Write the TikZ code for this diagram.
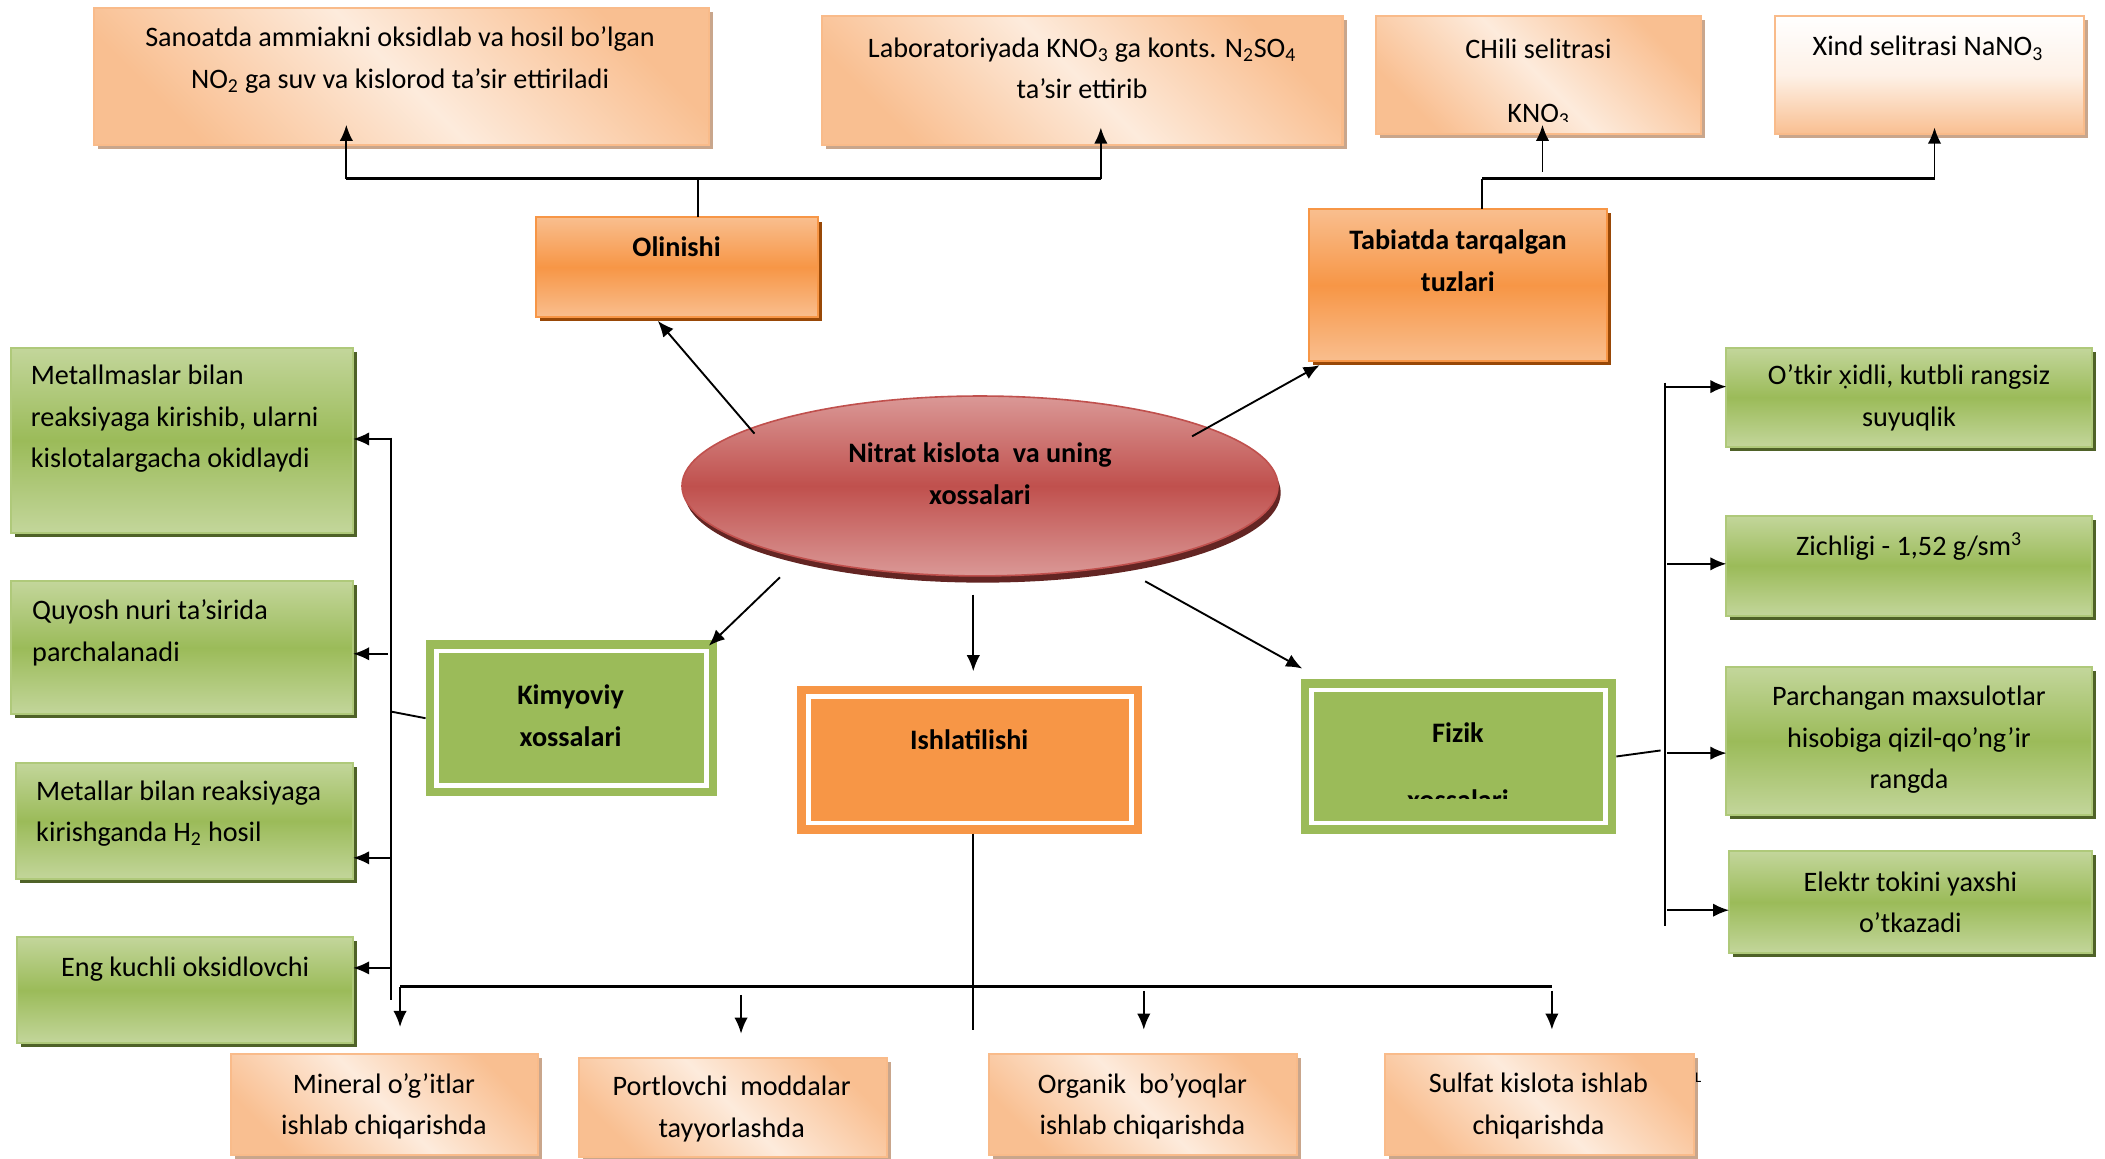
\documentclass[tikz,border=0pt]{standalone}
\usepackage{fontspec}
\setmainfont{Carlito}
\newfontfamily\notox[Scale=0.9]{Noto Sans}
\usetikzlibrary{shapes.geometric,shadows,arrows.meta}
\definecolor{peachD}{HTML}{F9BF91}
\definecolor{peachL}{HTML}{FDEBDC}
\definecolor{peachB}{HTML}{F9BB8A}
\definecolor{peachS}{HTML}{C9A68C}
\definecolor{orM}{HTML}{F79646}
\definecolor{orL}{HTML}{F9BE8E}
\definecolor{orS}{HTML}{984807}
\definecolor{grM}{HTML}{9BBB59}
\definecolor{grL}{HTML}{C3D69B}
\definecolor{grS}{HTML}{4F6228}
\definecolor{rdM}{HTML}{C0504D}
\definecolor{rdL}{HTML}{DA9896}
\definecolor{rdS}{HTML}{632523}
\tikzset{
  base/.style={inner sep=0pt, outer sep=0pt},
  peach/.style={base, draw=peachB, line width=1.5pt, top color=peachD, bottom color=peachD, middle color=peachL, shading angle=-45,
    drop shadow={shadow xshift=3pt, shadow yshift=-3pt, fill=peachS, opacity=1}},
  peachv/.style={base, draw=peachB, line width=1.5pt, top color=white, bottom color=peachD, middle color=peachL!70!white,
    drop shadow={shadow xshift=3pt, shadow yshift=-3pt, fill=peachS, opacity=1}},
  headbox/.style={base, draw=orM, line width=1.5pt, top color=orL, bottom color=orL, middle color=orM,
    drop shadow={shadow xshift=3pt, shadow yshift=-3pt, fill=orS, opacity=1}},
  greenbox/.style={base, draw=grM!80!white, line width=1.5pt, top color=grL, bottom color=grL, middle color=grM,
    drop shadow={shadow xshift=3pt, shadow yshift=-3pt, fill=grS, opacity=1}},
  ell/.style={base, ellipse, draw=rdM, line width=1.2pt, top color=rdL, bottom color=rdL, middle color=rdM,
    drop shadow={shadow xshift=2pt, shadow yshift=-5pt, fill=rdS, opacity=1}},
  solidg/.style={base, fill=grM},
  solido/.style={base, fill=orM},
  innerw/.style={draw=white, line width=3.5pt},
  txt/.style={base, align=center, font=\fontsize{21}{31}\selectfont},
  txtl/.style={base, align=left, anchor=west, font=\fontsize{21}{31}\selectfont},
  btxt/.style={base, align=center, font=\fontsize{21}{31}\selectfont\bfseries},
  ln/.style={line width=1.4pt, black},
  arr/.style={line width=1.4pt, black, -{Latex[length=12pt,width=10pt]}},
}
\begin{document}
\begin{tikzpicture}[x=1pt,y=-1pt]
\useasboundingbox[fill=white] (0,0) rectangle (1568,863.3);

% ---------- top boxes ----------
\node[peach, minimum width=458pt, minimum height=102pt] (b1) at (299,57) {};
\node[txt] (b1t) at (298,44.5) {Sanoatda ammiakni oksidlab va hosil bo’lgan\\NO\textsubscript{2} ga suv va kislorod ta’sir ettiriladi};
\node[peach, minimum width=388pt, minimum height=96pt] (b2) at (806,60) {};
\node[txt] (b2t) at (806,51) {Laboratoriyada KNO\textsubscript{3} ga konts. N\textsubscript{2}SO\textsubscript{4}\\ta’sir ettirib};
\node[peach, minimum width=242pt, minimum height=88pt] (b3) at (1146,56) {};
\node[txt] (b3t) at (1146,36) {CHili selitrasi};
\begin{scope}
  \clip (1025,12) rectangle (1267,90.5);
  \node[txt] (b3k) at (1146,86) {KNO\textsubscript{3}};
\end{scope}
\node[peachv, minimum width=230pt, minimum height=88pt] (b4) at (1437,56) {};
\node[txt] (b4t) at (1436,36) {Xind selitrasi NaNO\textsubscript{3}};

% ---------- heading boxes ----------
\node[headbox, minimum width=210pt, minimum height=74pt] (o) at (504,199) {};
\node[btxt] (ot) at (504,184) {Olinishi};
\node[headbox, minimum width=222pt, minimum height=113pt] (t) at (1086,212.5) {};
\node[btxt] (tt) at (1086,194) {Tabiatda tarqalgan\\tuzlari};

% ---------- central ellipse ----------
\node[ell, minimum width=444pt, minimum height=134pt] (e) at (730,362) {};
\node[btxt] (et) at (730,353) {Nitrat kislota \ va uning\\xossalari};

% ---------- Kimyoviy ----------
\node[solidg, minimum width=217pt, minimum height=116pt] (k) at (425.5,535) {};
\draw[innerw] ([shift={(8,8)}]k.north west) rectangle ([shift={(-8,-8)}]k.south east);
\node[btxt] (kt) at (425,533) {Kimyoviy\\xossalari};

% ---------- Ishlatilishi ----------
\node[solido, minimum width=257pt, minimum height=110pt] (i) at (722.5,566) {};
\draw[innerw] ([shift={(8,8)}]i.north west) rectangle ([shift={(-8,-8)}]i.south east);
\node[btxt] (it) at (722,551) {Ishlatilishi};

% ---------- Fizik ----------
\node[solidg, minimum width=235pt, minimum height=115pt] (f) at (1086.5,563.5) {};
\draw[innerw] ([shift={(8,8)}]f.north west) rectangle ([shift={(-8,-8)}]f.south east);
\node[btxt] (ft) at (1086,546) {Fizik};
\begin{scope}
  \clip (969,506) rectangle (1204,595);
  \node[btxt] (fx) at (1086,596) {xossalari};
\end{scope}

% ---------- left green boxes ----------
\node[greenbox, minimum width=255pt, minimum height=138pt] (l1) at (135.5,328) {};
\node[txtl] (l1t) at (23,312) {Metallmaslar bilan\\reaksiyaga kirishib, ularni\\kislotalargacha okidlaydi};
\node[greenbox, minimum width=255pt, minimum height=99pt] (l2) at (135.5,482.5) {};
\node[txtl] (l2t) at (24,471.5) {Quyosh nuri ta’sirida\\parchalanadi};
\node[greenbox, minimum width=251pt, minimum height=87pt] (l3) at (137.5,611.5) {};
\node[txtl] (l3t) at (27,606) {Metallar bilan reaksiyaga\\kirishganda H\textsubscript{2} hosil};
\node[greenbox, minimum width=250pt, minimum height=79pt] (l4) at (138,737.5) {};
\node[txt] (l4t) at (138,722) {Eng kuchli oksidlovchi};

% ---------- right green boxes ----------
\node[greenbox, minimum width=272pt, minimum height=74pt] (r1) at (1422,296) {};
\node[txt] (r1t) at (1422,296.5) {O’tkir {\notox x̣}idli, kutbli rangsiz\\suyuqlik};
\node[greenbox, minimum width=272pt, minimum height=75pt] (r2) at (1422,421.5) {};
\node[txt] (r2t) at (1422,407) {Zichligi - 1,52 g/sm\textsuperscript{3}};
\node[greenbox, minimum width=272pt, minimum height=110pt] (r3) at (1422,552) {};
\node[txt] (r3t) at (1422,551) {Parchangan maxsulotlar\\hisobiga qizil-qo’ng’ir\\rangda};
\node[greenbox, minimum width=270pt, minimum height=76pt] (r4) at (1423,672) {};
\node[txt] (r4t) at (1423,672) {Elektr tokini yaxshi\\o’tkazadi};

% ---------- bottom boxes ----------
\node[peach, minimum width=229pt, minimum height=75pt] (u1) at (286.5,822.5) {};
\node[txt] (u1t) at (286,824) {Mineral o’g’itlar\\ishlab chiqarishda};
\node[peach, minimum width=230pt, minimum height=74pt] (u2) at (546,825) {};
\node[txt] (u2t) at (545,826) {Portlovchi \ moddalar\\tayyorlashda};
\node[peach, minimum width=229pt, minimum height=75pt] (u3) at (851.5,822.5) {};
\node[txt] (u3t) at (851,824) {Organik \ bo’yoqlar\\ishlab chiqarishda};
\node[peach, minimum width=230pt, minimum height=75pt] (u4) at (1147,822.5) {};
\node[txt] (u4t) at (1146,824) {Sulfat kislota ishlab\\chiqarishda};
\node[base, font=\fontsize{11}{11}\selectfont] (lmark) at (1265,803) {L};

% ---------- connector coordinates ----------
\coordinate (tl) at (258,133);
\coordinate (tm) at (520,133);
\coordinate (tr) at (820,133);
\coordinate (tla) at (258,93);
\coordinate (tra) at (820,95);
\coordinate (sl) at (1104,133);
\coordinate (sr) at (1441,133);
\coordinate (sm0) at (1149,128);
\coordinate (sma) at (1149,93);
\coordinate (sra) at (1441,95);

\coordinate (eo) at (562,323);  \coordinate (eoa) at (490,239);
\coordinate (et2) at (888,325); \coordinate (eta) at (983,272);
\coordinate (ek) at (581,430);  \coordinate (eka) at (528,481);
\coordinate (ei) at (725,443);  \coordinate (eia) at (725,500);
\coordinate (ef) at (853,433);  \coordinate (efa) at (970,498);

\coordinate (lv0) at (291,326); \coordinate (lv1) at (291,745);
\coordinate (kj) at (291,530);
\coordinate (la1) at (291,327); \coordinate (la2) at (289,487);
\coordinate (la3) at (291,639); \coordinate (la4) at (291,721);

\coordinate (rv0) at (1240,285); \coordinate (rv1) at (1240,690);
\coordinate (fj) at (1237,559);
\coordinate (ra1) at (1240,288); \coordinate (ra2) at (1242,420);
\coordinate (ra3) at (1242,561); \coordinate (ra4) at (1242,678);

\coordinate (bv) at (725,767);
\coordinate (bl) at (298,735); \coordinate (br) at (1156,735);
\coordinate (bla) at (298,765);
\coordinate (b2s) at (552,741); \coordinate (b2a) at (552,770);
\coordinate (b3s) at (852,738); \coordinate (b3a) at (852,767);
\coordinate (b4s) at (1156,738); \coordinate (b4a) at (1156,767);

% ---------- connectors ----------
\draw[ln, line width=2pt] (tl) -- (tr);
\draw[ln] (tm) -- (tm |- o.north);
\draw[arr] (tl) -- (tla);
\draw[arr] (tr) -- (tra);
\draw[ln, line width=2pt] (sl) -- (sr);
\draw[ln] (sl) -- (sl |- t.north);
\draw[arr] (sm0) -- (sma);
\draw[arr] (sr) -- (sra);

\draw[arr] (eo) -- (eoa);
\draw[arr] (et2) -- (eta);
\draw[arr] (ek) -- (eka);
\draw[arr] (ei) -- (eia);
\draw[arr] (ef) -- (efa);

\draw[ln] (lv0) -- (lv1);
\draw[ln] (k.west) -- (kj);
\draw[arr] (la1) -- (la1 -| l1.east);
\draw[arr] (la2) -- (la2 -| l2.east);
\draw[arr] (la3) -- (la3 -| l3.east);
\draw[arr] (la4) -- (la4 -| l4.east);

\draw[ln] (rv0) -- (rv1);
\draw[ln] (f.east) -- (fj);
\draw[arr] (ra1) -- (ra1 -| r1.west);
\draw[arr] (ra2) -- (ra2 -| r2.west);
\draw[arr] (ra3) -- (ra3 -| r3.west);
\draw[arr] (ra4) -- (ra4 -| r4.west);

\draw[ln] (i.south -| bv) -- (bv);
\draw[ln, line width=2pt] (bl) -- (br);
\draw[arr] (bl) -- (bla);
\draw[arr] (b2s) -- (b2a);
\draw[arr] (b3s) -- (b3a);
\draw[arr] (b4s) -- (b4a);
\end{tikzpicture}
\end{document}
